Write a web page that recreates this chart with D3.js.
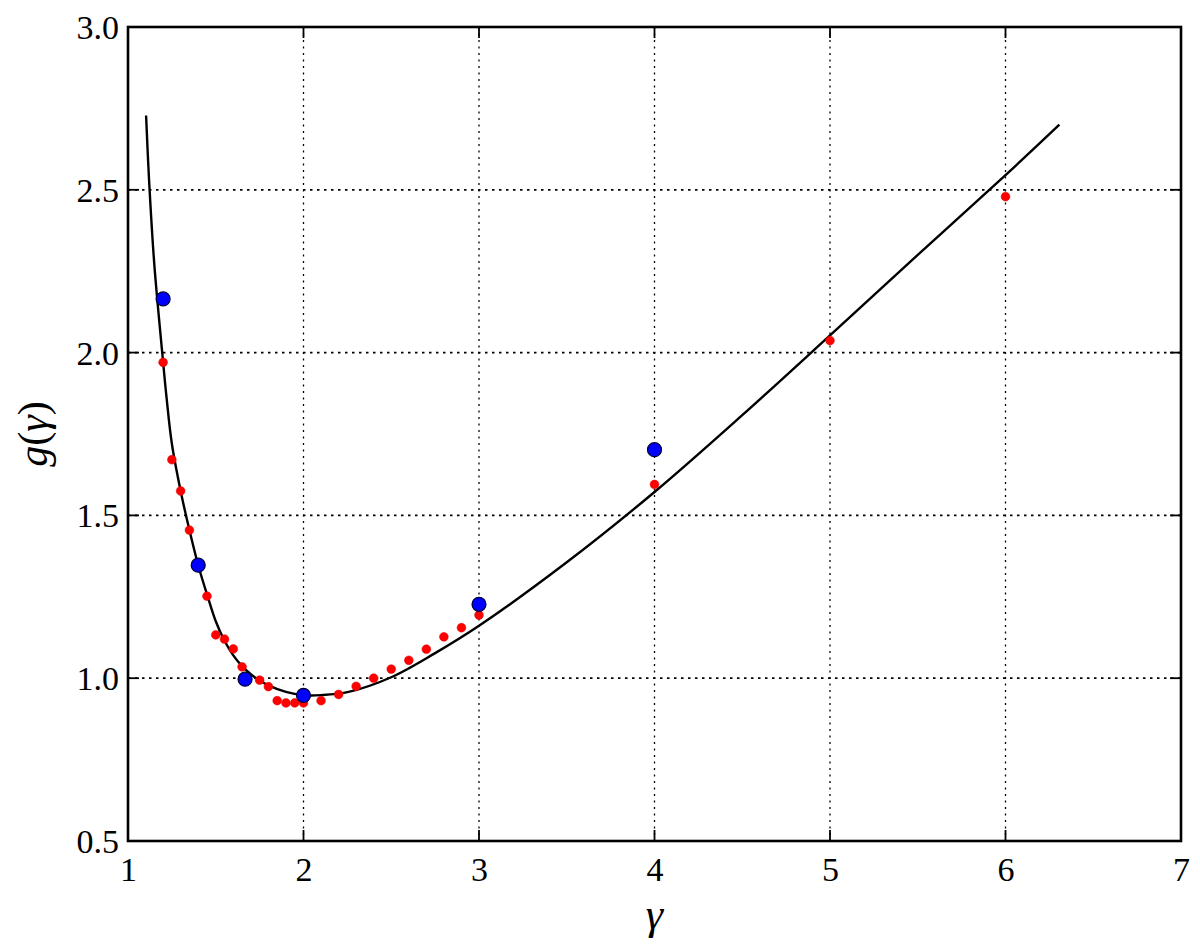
<!DOCTYPE html>
<html>
<head>
<meta charset="utf-8">
<script src="https://cdn.jsdelivr.net/npm/d3@7"></script>
<style>
  html, body { margin: 0; padding: 0; background: #fff; }
  svg { display: block; }
  svg text { font-family: "Liberation Serif", "Tinos", "Times New Roman", "DejaVu Serif", "Noto Serif", "FreeSerif", serif !important; fill: #000; }
</style>
</head>
<body>
<svg id="chart" width="1200" height="944"></svg>
<script>
// ---- data ----
const xTicks = [1, 2, 3, 4, 5, 6, 7];
const yTicks = [0.5, 1.0, 1.5, 2.0, 2.5, 3.0];
const yTickLabels = ["0.5", "1.0", "1.5", "2.0", "2.5", "3.0"];

// fitted curve
const curveX = [1.103, 1.12, 1.15, 1.195, 1.22, 1.25, 1.3, 1.35, 1.4, 1.45, 1.5, 1.55, 1.6, 1.65, 1.7, 1.75, 1.8, 1.9, 2.0, 2.1, 2.25, 2.5, 2.75, 3.0, 3.5, 4.0, 4.5, 5.0, 5.5, 6.0, 6.307];
const curveY = [2.728, 2.53, 2.27, 2.0, 1.86, 1.72, 1.575, 1.455, 1.347, 1.258, 1.175, 1.115, 1.07, 1.037, 1.012, 0.993, 0.978, 0.958, 0.948, 0.948, 0.957, 1.003, 1.077, 1.161, 1.356, 1.572, 1.808, 2.053, 2.30, 2.545, 2.70];

// small red points
const redX = [1.2, 1.25, 1.3, 1.35, 1.45, 1.5, 1.55, 1.6, 1.65, 1.75, 1.8, 1.85, 1.9, 1.95, 2.0, 2.1, 2.2, 2.3, 2.4, 2.5, 2.6, 2.7, 2.8, 2.9, 3.0, 4.0, 5.0, 6.0];
const redY = [1.970, 1.671, 1.575, 1.455, 1.252, 1.133, 1.120, 1.090, 1.035, 0.994, 0.974, 0.931, 0.924, 0.924, 0.924, 0.931, 0.950, 0.975, 1.000, 1.028, 1.055, 1.089, 1.127, 1.155, 1.194, 1.595, 2.037, 2.479];

// large blue points
const blueX = [1.2, 1.4, 1.667, 2.0, 3.0, 4.0];
const blueY = [2.165, 1.347, 0.997, 0.947, 1.227, 1.702];

// ---- layout ----
const L = 128, T = 27, R = 1181, B = 841;
const svg = d3.select("#chart");
const x = d3.scaleLinear().domain([1, 7]).range([L, R]);
const y = d3.scaleLinear().domain([0.5, 3.0]).range([B, T]);

// grid
const grid = svg.append("g");
grid.selectAll("line.vg").data(xTicks.slice(1, -1)).enter().append("line")
  .attr("x1", d => x(d)).attr("x2", d => x(d)).attr("y1", T).attr("y2", B)
  .attr("stroke", "#000").attr("stroke-width", 1.3).attr("stroke-dasharray", "2,4.5");
grid.selectAll("line.hg").data(yTicks.slice(1, -1)).enter().append("line")
  .attr("y1", d => y(d)).attr("y2", d => y(d)).attr("x1", L).attr("x2", R)
  .attr("stroke", "#000").attr("stroke-width", 1.7).attr("stroke-dasharray", "2.5,4.5");

// curve
const line = d3.line().x(d => x(d[0])).y(d => y(d[1])).curve(d3.curveCatmullRom.alpha(0.5));
svg.append("path").datum(curveX.map((v, i) => [v, curveY[i]]))
  .attr("d", line).attr("fill", "none").attr("stroke", "#000").attr("stroke-width", 2.4)
  .attr("stroke-linejoin", "round");

// red points
svg.append("g").selectAll("circle").data(redX.map((v, i) => [v, redY[i]])).enter().append("circle")
  .attr("cx", d => x(d[0])).attr("cy", d => y(d[1])).attr("r", 4.4)
  .attr("fill", "#ff0000").attr("stroke", "#e00000").attr("stroke-width", 0.5);

// blue points
svg.append("g").selectAll("circle").data(blueX.map((v, i) => [v, blueY[i]])).enter().append("circle")
  .attr("cx", d => x(d[0])).attr("cy", d => y(d[1])).attr("r", 7)
  .attr("fill", "#0000ff").attr("stroke", "#000033").attr("stroke-width", 1.2);

// ticks (inward on all sides)
const tk = svg.append("g").attr("stroke", "#000").attr("stroke-width", 1.8);
const TL = 11;
xTicks.forEach(v => {
  tk.append("line").attr("x1", x(v)).attr("x2", x(v)).attr("y1", B).attr("y2", B - TL);
  tk.append("line").attr("x1", x(v)).attr("x2", x(v)).attr("y1", T).attr("y2", T + TL);
});
yTicks.forEach(v => {
  tk.append("line").attr("y1", y(v)).attr("y2", y(v)).attr("x1", L).attr("x2", L + TL);
  tk.append("line").attr("y1", y(v)).attr("y2", y(v)).attr("x1", R).attr("x2", R - TL);
});

// frame
svg.append("rect").attr("x", L).attr("y", T).attr("width", R - L).attr("height", B - T)
  .attr("fill", "none").attr("stroke", "#000").attr("stroke-width", 2.6);

// tick labels via d3 axes (lines hidden)
const xAxis = svg.append("g").attr("transform", `translate(0,${B})`)
  .call(d3.axisBottom(x).tickValues(xTicks).tickFormat(d3.format("d")).tickSize(0).tickPadding(0));
xAxis.select(".domain").remove();
xAxis.selectAll("text").attr("font-size", 34).attr("y", 40).attr("dy", null);

const yAxis = svg.append("g").attr("transform", `translate(${L},0)`)
  .call(d3.axisLeft(y).tickValues(yTicks).tickFormat((d, i) => yTickLabels[i]).tickSize(0).tickPadding(0));
yAxis.select(".domain").remove();
yAxis.selectAll("text").attr("font-size", 34).attr("x", -9).attr("dy", "0.34em");

// axis titles
svg.append("text").attr("x", (L + R) / 2).attr("y", 929).attr("text-anchor", "middle")
  .attr("font-size", 44).attr("font-style", "italic").text("γ");

const yl = svg.append("text").attr("transform", `translate(47,${(T + B) / 2}) rotate(-90)`)
  .attr("text-anchor", "middle").attr("font-size", 42);
yl.append("tspan").attr("font-style", "italic").text("g");
yl.append("tspan").text("(");
yl.append("tspan").attr("font-style", "italic").text("γ");
yl.append("tspan").text(")");
</script>
</body>
</html>
